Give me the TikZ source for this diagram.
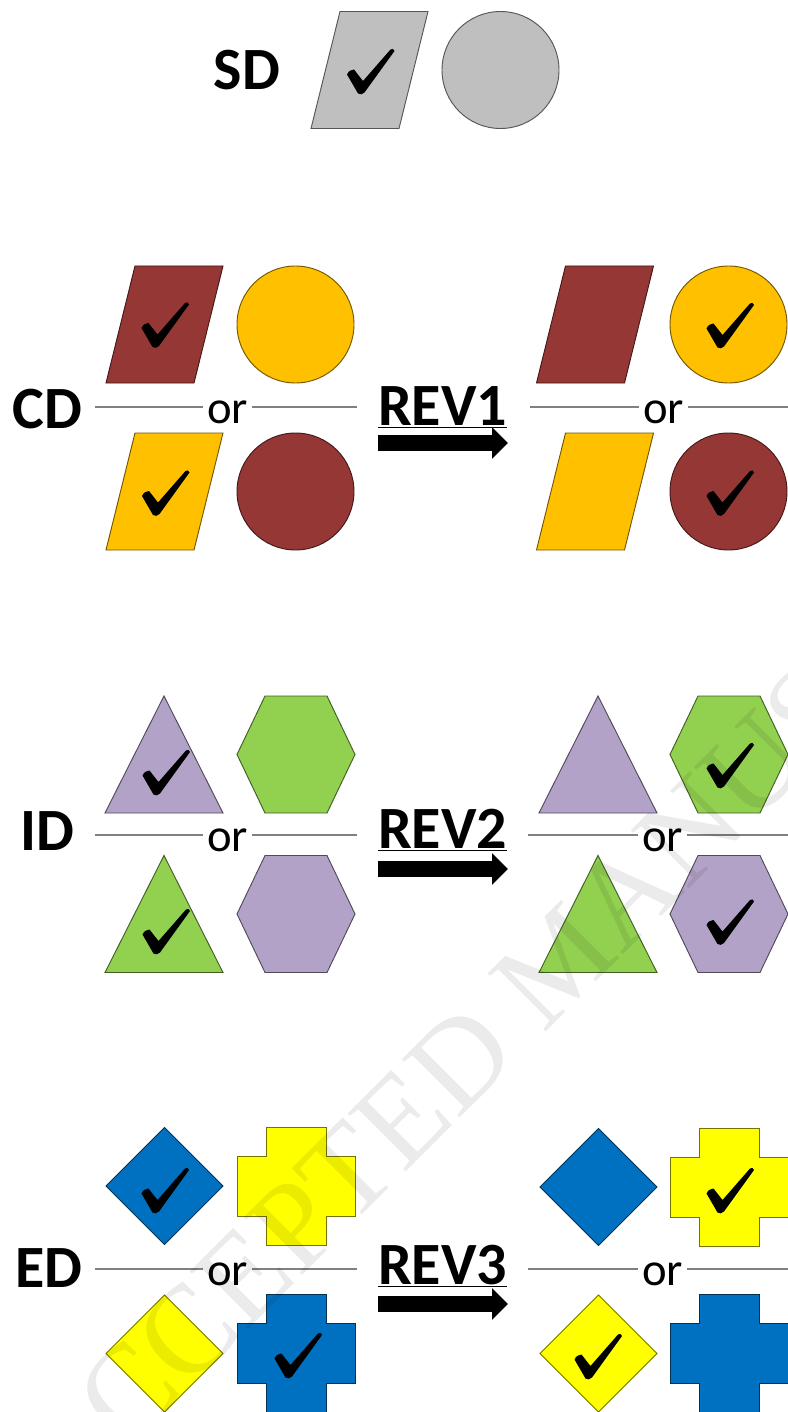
\documentclass[tikz,border=0pt]{standalone}
\usepackage{fontspec}
\setmainfont{Carlito}
\newfontfamily\wmfont{Liberation Serif}
\usetikzlibrary{arrows.meta}
\definecolor{cgray}{HTML}{BFBFBF}
\definecolor{cbrown}{HTML}{953735}
\definecolor{corange}{HTML}{FFC000}
\definecolor{cpurple}{HTML}{B3A2C7}
\definecolor{cgreen}{HTML}{92D050}
\definecolor{cblue}{HTML}{0070C0}
\definecolor{cyellow}{HTML}{FFFF00}
\definecolor{csep}{HTML}{808080}
\begin{document}
\begin{tikzpicture}[x=0.75pt,y=-0.75pt,
  shp/.style={fill=#1, draw=#1!45!black, line width=0.7pt},
  sep/.style={draw=csep, line width=1.1pt},
  lab/.style={font=\fontsize{45}{45}\selectfont\bfseries, inner sep=0pt, anchor=base},
  ortext/.style={font=\fontsize{35}{35}\selectfont, inner xsep=3pt, inner ysep=0pt, anchor=base},
  revarrow/.style={line width=12pt, -{Triangle[length=12pt,width=23pt]}},
  pics/para/.style={code={\draw[shp=#1] (-29.5,-58.5) -- (58.5,-58.5) -- (29.5,58.5) -- (-58.5,58.5) -- cycle;}},
  pics/circ/.style={code={\draw[shp=#1] (0,0) circle[radius=58.5];}},
  pics/tri/.style={code={\draw[shp=#1] (0,-58.5) -- (59,58.5) -- (-59,58.5) -- cycle;}},
  pics/hexa/.style={code={\draw[shp=#1] (-59,0) -- (-31,-58.5) -- (31,-58.5) -- (59,0) -- (31,58.5) -- (-31,58.5) -- cycle;}},
  pics/diam/.style={code={\draw[shp=#1] (0,-58.5) -- (58.5,0) -- (0,58.5) -- (-58.5,0) -- cycle;}},
  pics/crs/.style={code={\draw[shp=#1] (-30,-59) -- (30,-59) -- (30,-30) -- (59,-30) -- (59,30) -- (30,30) -- (30,59) -- (-30,59) -- (-30,30) -- (-59,30) -- (-59,-30) -- (-30,-30) -- cycle;}},
  pics/chk/.style={code={\fill[black] (-23.5,3.5) .. controls (-22,0) and (-19,-1.5) .. (-16.5,-1.5) -- (-7.5,10) -- (20,-21.5) .. controls (21.5,-23) and (23.5,-22) .. (24,-20) -- (-6,21.5) .. controls (-7.5,23.5) and (-11,24) .. (-12.5,22.5) -- cycle;}}
]
\useasboundingbox (0,0) rectangle (788,1412);
\fill[white] (0,0) rectangle (788,1412);
\clip (0,0) rectangle (788,1412);

% ---------- SD ----------
\node[lab] (sd) at (247,90) {SD};
\pic at (369.5,70) {para=cgray};
\pic at (500.5,70) {circ=cgray};
\pic at (370.5,71) {chk};

% ---------- CD ----------
\pic at (164.5,324.5) {para=cbrown};
\pic at (295.5,324.5) {circ=corange};
\pic at (164.5,491.5) {para=corange};
\pic at (295.5,491.5) {circ=cbrown};
\pic at (165,324.5) {chk};
\pic at (165.5,492.5) {chk};
\pic at (595,324.5) {para=cbrown};
\pic at (728.5,324.5) {circ=corange};
\pic at (595,491.5) {para=corange};
\pic at (728.5,491.5) {circ=cbrown};
\pic at (730,325) {chk};
\pic at (730,492.5) {chk};
\node[lab] (cd) at (47.5,428) {CD};
\coordinate (cdla) at (95,407);
\coordinate (cdlb) at (357,407);
\node[ortext] (cdor) at (227.5,423) {or};
\draw[sep] (cdla) -- (cdla -| cdor.west);
\draw[sep] (cdlb -| cdor.east) -- (cdlb);
\coordinate (cdra) at (530,407);
\coordinate (cdrb) at (790,407);
\node[ortext] (cdor2) at (663.5,423) {or};
\draw[sep] (cdra) -- (cdra -| cdor2.west);
\draw[sep] (cdrb -| cdor2.east) -- (cdrb);
\node[lab] (rev1) at (442.5,425) {\underline{REV1}};
\coordinate (rev1a) at (378,443);
\coordinate (rev1b) at (508,443);
\draw[revarrow] (rev1a) -- (rev1b);

% ---------- ID ----------
\pic at (164,754.5) {tri=cpurple};
\pic at (296,754.5) {hexa=cgreen};
\pic at (164,914) {tri=cgreen};
\pic at (296,914) {hexa=cpurple};
\pic at (166,772) {chk};
\pic at (166,931) {chk};
\pic at (598,754.5) {tri=cpurple};
\pic at (729,754.5) {hexa=cgreen};
\pic at (598,914) {tri=cgreen};
\pic at (729,914) {hexa=cpurple};
\pic at (730,765) {chk};
\pic at (730,921.5) {chk};
\node[lab] (id) at (47.5,850) {ID};
\coordinate (idla) at (95,835);
\coordinate (idlb) at (357,835);
\node[ortext] (idor) at (227.5,851) {or};
\draw[sep] (idla) -- (idla -| idor.west);
\draw[sep] (idlb -| idor.east) -- (idlb);
\coordinate (idra) at (528,835);
\coordinate (idrb) at (790,835);
\node[ortext] (idor2) at (662.5,851) {or};
\draw[sep] (idra) -- (idra -| idor2.west);
\draw[sep] (idrb -| idor2.east) -- (idrb);
\node[lab] (rev2) at (442.5,848) {\underline{REV2}};
\coordinate (rev2a) at (378,869);
\coordinate (rev2b) at (508,869);
\draw[revarrow] (rev2a) -- (rev2b);

% ---------- ED ----------
\pic at (164.5,1186) {diam=cblue};
\pic at (296,1186) {crs=cyellow};
\pic at (164.5,1353.5) {diam=cyellow};
\pic at (296,1353.5) {crs=cblue};
\pic at (165,1190) {chk};
\pic at (298,1355) {chk};
\pic at (598.5,1187) {diam=cblue};
\pic at (729,1187) {crs=cyellow};
\pic at (598.5,1353.5) {diam=cyellow};
\pic at (729,1353.5) {crs=cblue};
\pic at (730,1190) {chk};
\pic at (598,1356) {chk};
\node[lab] (ed) at (49,1287) {ED};
\coordinate (edla) at (95,1269);
\coordinate (edlb) at (357,1269);
\node[ortext] (edor) at (227.5,1285) {or};
\draw[sep] (edla) -- (edla -| edor.west);
\draw[sep] (edlb -| edor.east) -- (edlb);
\coordinate (edra) at (528,1269);
\coordinate (edrb) at (790,1269);
\node[ortext] (edor2) at (662.5,1285) {or};
\draw[sep] (edra) -- (edra -| edor2.west);
\draw[sep] (edrb -| edor2.east) -- (edrb);
\node[lab] (rev3) at (442.5,1284) {\underline{REV3}};
\coordinate (rev3a) at (378,1304);
\coordinate (rev3b) at (508,1304);
\draw[revarrow] (rev3a) -- (rev3b);

% ---------- watermark ----------
\node[rotate=45, text=black, text opacity=0.08, font=\wmfont\fontsize{94}{94}\selectfont] (wm) at (560,960) {ACCEPTED MANUSCRIPT};
\end{tikzpicture}
\end{document}
